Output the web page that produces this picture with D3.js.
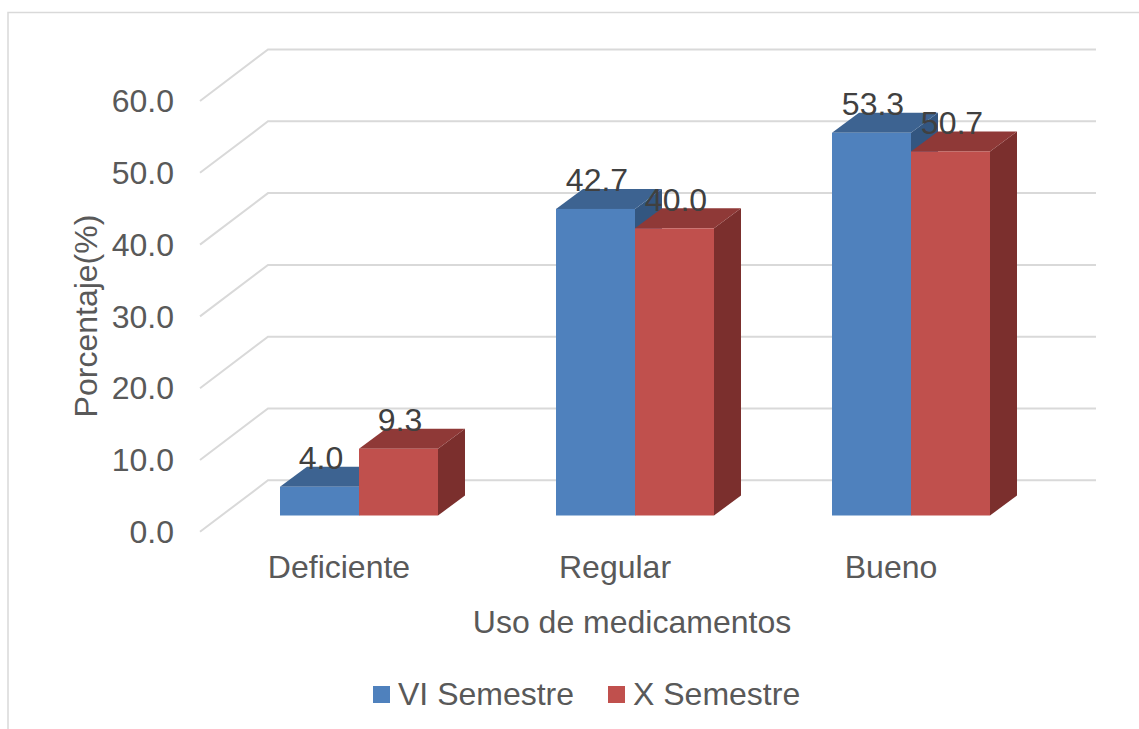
<!DOCTYPE html>
<html><head><meta charset="utf-8">
<script src="https://cdn.jsdelivr.net/npm/d3@7/dist/d3.min.js"></script>
<style>html,body{margin:0;padding:0;background:#fff}svg{display:block}text{font-family:"Liberation Sans",Arial,sans-serif}</style>
</head><body>
<script>
const categories = ["Deficiente","Regular","Bueno"];
const seriesNames = ["VI Semestre","X Semestre"];
const viSemestre = [4.0,42.7,53.3];
const xSemestre = [9.3,40.0,50.7];
const yTicks = [0,10,20,30,40,50,60];
const xTitle = "Uso de medicamentos";
const yTitle = "Porcentaje(%)";

const W=1139,H=729, depthX=27, depthY=20, baseY=515.5;
const colors=[{front:"#4F81BD",top:"#3D6391",side:"#335680"},{front:"#C0504D",top:"#8F3937",side:"#7B2F2D"}];
const svg=d3.select("body").append("svg").attr("width",W).attr("height",H);
const y=d3.scaleLinear().domain([0,60]).range([baseY,84.7]);
const x0=d3.scaleBand().domain(categories).range([221,1049]);
const x1=d3.scaleBand().domain(seriesNames).range([0,158]);

// frame
svg.append("path").attr("d",`M8,729V12.5H1139`).attr("fill","none").attr("stroke","#D9D9D9").attr("stroke-width",1.5);

// 3D gridlines: floor diagonal + back wall
const gridFrontX=200, gridBackX=268, gridEndX=1096;
svg.append("g").selectAll("path").data(yTicks).join("path")
  .attr("d",d=>{const f=y(d)+16.3,b=f-51.5;return `M${gridFrontX},${f}L${gridBackX},${b}H${gridEndX}`;})
  .attr("fill","none").attr("stroke","#D9D9D9").attr("stroke-width",2);

// bars
const cx=c=>x0(c)+x0.bandwidth()/2;
const bars=[];
seriesNames.forEach((s,si)=>{const vals=si===0?viSemestre:xSemestre;
  categories.forEach((c,ci)=>bars.push({s,si,c,v:vals[ci]}));});
const bw=x1.bandwidth();
const left=d=>cx(d.c)-bw+x1(d.s);
const g=svg.append("g");
const bar=g.selectAll("g").data(bars).join("g");
bar.append("path").attr("fill",d=>colors[d.si].side).attr("d",d=>{const l=left(d)+bw,t=y(d.v);
  return `M${l},${t}l${depthX},${-depthY}V${baseY-depthY}L${l},${baseY}Z`;});
bar.append("path").attr("fill",d=>colors[d.si].top).attr("d",d=>{const l=left(d),t=y(d.v);
  return `M${l},${t}l${depthX},${-depthY}h${bw}l${-depthX},${depthY}Z`;});
bar.append("rect").attr("fill",d=>colors[d.si].front).attr("x",d=>left(d)).attr("y",d=>y(d.v)).attr("width",bw).attr("height",d=>baseY-y(d.v));

// value labels
svg.append("g").selectAll("text").data(bars).join("text")
  .attr("x",d=>left(d)+bw/2+1.5).attr("y",d=>y(d.v)-17.5)
  .attr("text-anchor","middle").attr("font-size",32).attr("fill","#404040")
  .text(d=>d.v.toFixed(1));

// y tick labels
svg.append("g").selectAll("text").data(yTicks).join("text")
  .attr("x",174).attr("y",d=>y(d)+27.5).attr("text-anchor","end")
  .attr("font-size",32).attr("fill","#595959").text(d=>d.toFixed(1));

// category labels
const catX=[339,615,891];
svg.append("g").selectAll("text").data(categories).join("text")
  .attr("x",(d,i)=>catX[i]).attr("y",578).attr("text-anchor","middle")
  .attr("font-size",32).attr("fill","#595959").text(d=>d);

svg.append("text").attr("x",632).attr("y",633).attr("text-anchor","middle").attr("font-size",32).attr("fill","#595959").text(xTitle);
svg.append("text").attr("transform","translate(97,316) rotate(-90)").attr("text-anchor","middle").attr("font-size",32).attr("fill","#595959").text(yTitle);

// legend
const legX=[373,608], legTx=[398,633];
const leg=svg.append("g").selectAll("g").data(seriesNames).join("g");
leg.append("rect").attr("x",(d,i)=>legX[i]).attr("y",686).attr("width",17).attr("height",17).attr("fill",(d,i)=>colors[i].front);
leg.append("text").attr("x",(d,i)=>legTx[i]).attr("y",705).attr("font-size",32).attr("fill","#595959").text(d=>d);
</script>
</body></html>
